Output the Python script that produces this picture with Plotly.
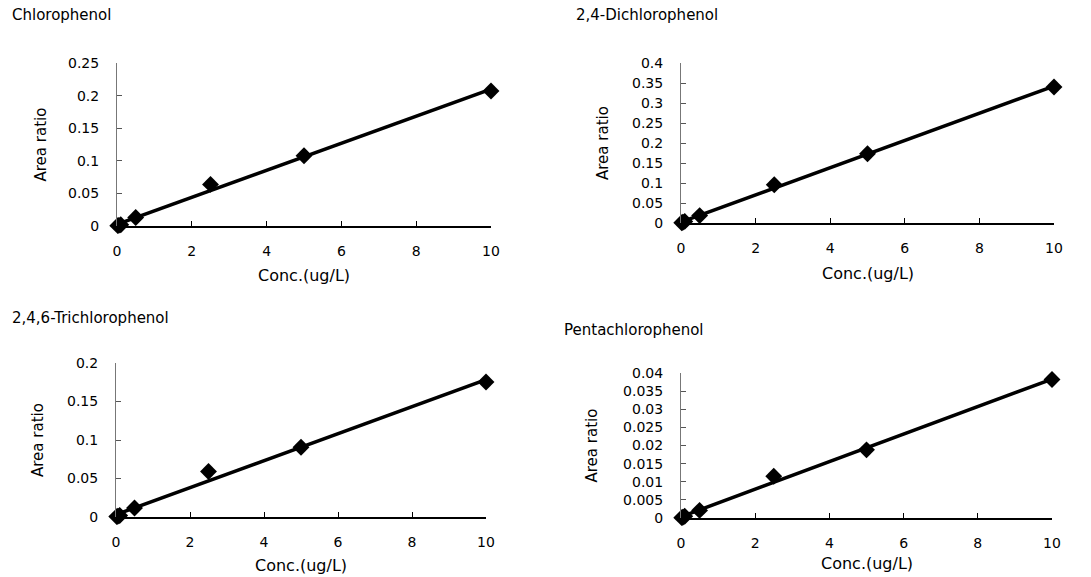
import numpy as np
import plotly.graph_objects as go

W, H = 1091, 577

conc = [0.02, 0.05, 0.1, 0.5, 2.5, 5, 10]
chlorophenol = [0.0005, 0.001, 0.002, 0.013, 0.0638, 0.1077, 0.207]
dichlorophenol = [0.0008, 0.002, 0.004, 0.0185, 0.0958, 0.173, 0.340]
trichlorophenol = [0.0005, 0.001, 0.002, 0.0116, 0.059, 0.0905, 0.1754]
pentachlorophenol = [0.0001, 0.0002, 0.0005, 0.0021, 0.0115, 0.0188, 0.0382]

names = ["Chlorophenol", "2,4-Dichlorophenol", "2,4,6-Trichlorophenol", "Pentachlorophenol"]
series = [chlorophenol, dichlorophenol, trichlorophenol, pentachlorophenol]
y_max = [0.25, 0.4, 0.2, 0.04]
y_step = [0.05, 0.05, 0.05, 0.005]
x_ticks = [0, 2, 4, 6, 8, 10]

# pixel layout: (x0, x1, ytop, ybottom), title pos, y-title x, x-title y
boxes = [(117, 491, 63, 226), (681, 1054, 63, 223), (116, 486, 363, 517), (681, 1052, 373, 518)]
title_pos = [(10, 15), (574, 15), (10, 318), (562, 330)]
ytitle_x = [40, 603, 38, 592]
xtitle_y = [275, 273, 565, 563]

fig = go.Figure()
tickfont = dict(family="DejaVu Sans, sans-serif", size=14, color="black")
labelfont = dict(family="DejaVu Sans, sans-serif", size=15, color="black")

def px(x):
    return x / W

def py(y):
    return 1 - y / H

for i in range(4):
    xa = "x" if i == 0 else f"x{i+1}"
    ya = "y" if i == 0 else f"y{i+1}"
    xs = np.array(conc)
    ys = np.array(series[i])
    k, b = np.polyfit(xs, ys, 1)
    fx = np.array([0, 10])
    fig.add_trace(go.Scatter(x=fx, y=k * fx + b, mode="lines", line=dict(color="black", width=3.5),
                             xaxis=xa, yaxis=ya, showlegend=False, cliponaxis=False, hoverinfo="skip"))
    fig.add_trace(go.Scatter(x=xs, y=ys, mode="markers", marker=dict(symbol="diamond", size=13, color="black"),
                             xaxis=xa, yaxis=ya, showlegend=False, cliponaxis=False))
    x0, x1, yt, yb = boxes[i]
    n = int(round(y_max[i] / y_step[i]))
    yt_vals = [round(j * y_step[i], 4) for j in range(n + 1)]
    yt_text = [("%g" % v) for v in yt_vals]
    fig.layout[("xaxis" if i == 0 else f"xaxis{i+1}")] = dict(
        domain=[px(x0), px(x1)], range=[0, 10], anchor=ya, tickvals=x_ticks, automargin=False,
        ticks="inside", ticklen=5, tickcolor="black", showline=True, linecolor="black", linewidth=1.5,
        showgrid=False, zeroline=False, tickfont=tickfont, ticklabelstandoff=11)
    fig.layout[("yaxis" if i == 0 else f"yaxis{i+1}")] = dict(
        domain=[py(yb), py(yt)], range=[0, y_max[i]], anchor=xa, tickvals=yt_vals, ticktext=yt_text,
        automargin=False,
        ticks="inside", ticklen=5, tickcolor="#555", showline=True, linecolor="#777", linewidth=1,
        showgrid=False, zeroline=False, tickfont=tickfont, ticklabelstandoff=14)
    fig.add_annotation(text=names[i], x=px(title_pos[i][0]), y=py(title_pos[i][1]), xref="paper", yref="paper",
                       xanchor="left", yanchor="middle", showarrow=False, font=labelfont)
    fig.add_annotation(text="Area ratio", x=px(ytitle_x[i]), y=(py(yb) + py(yt)) / 2, xref="paper", yref="paper",
                       xanchor="center", yanchor="middle", showarrow=False, textangle=-90, font=labelfont)
    fig.add_annotation(text="Conc.(ug/L)", x=(px(x0) + px(x1)) / 2, y=py(xtitle_y[i]), xref="paper", yref="paper",
                       xanchor="center", yanchor="middle", showarrow=False,
                       font=dict(family="DejaVu Sans, sans-serif", size=16, color="black"))

fig.update_layout(width=W, height=H, margin=dict(l=0, r=0, t=0, b=0),
                  paper_bgcolor="white", plot_bgcolor="white", font=tickfont)
fig.write_html("out.html", config={"displayModeBar": False},
               post_script="document.body.style.margin='0';document.body.style.overflow='hidden';")
